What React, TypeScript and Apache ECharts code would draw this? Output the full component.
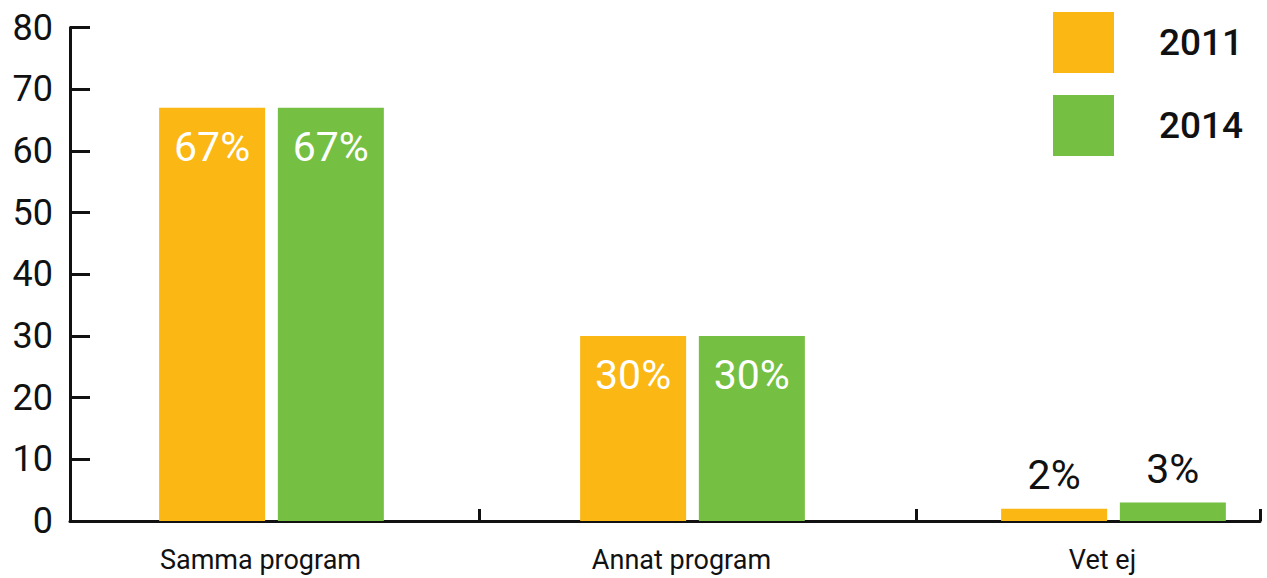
import React, { useEffect, useRef } from "react";
import * as echarts from "echarts";

const categories = ["Samma program", "Annat program", "Vet ej"];
const seriesNames = ["2011", "2014"];
const values2011 = [67, 30, 2];
const values2014 = [67, 30, 3];
const yTicks = [0, 10, 20, 30, 40, 50, 60, 70, 80];
const colors = ["#FBB713", "#75BF43"];

// x-axis (in category units) as laid out in the original picture
const xMin = -0.4786;
const xMax = 2.348;
const categoryBoundaries = [xMin, 0.4929, 1.5309, xMax];

const FONT = "Roboto";

function buildData(values: number[]) {
  return values.map((v, i) => {
    const small = v < 10;
    return {
      value: [i, v],
      label: small
        ? { position: "top", distance: 13, color: "#111" }
        : { position: "insideTop", distance: 19, color: "#fff" },
    };
  });
}

export default function App() {
  const ref = useRef<HTMLDivElement>(null);
  useEffect(() => {
    if (!ref.current) return;
    const chart = echarts.init(ref.current, null, { renderer: "svg" });
    const labelCommon = {
      show: true,
      formatter: (p: any) => `${p.value[1]}%`,
      fontFamily: FONT,
      fontSize: 41,
      fontWeight: "normal",
    };
    chart.setOption({
      animation: false,
      textStyle: { fontFamily: FONT },
      grid: { left: 70, right: 7, top: 27.5, bottom: 57, containLabel: false },
      legend: {
        orient: "vertical",
        left: 1053,
        top: 12,
        padding: 0,
        itemWidth: 61,
        itemHeight: 61,
        itemGap: 22,
        icon: "rect",
        data: seriesNames,
        textStyle: {
          fontFamily: FONT,
          fontSize: 37,
          fontWeight: 500,
          color: "#111",
          padding: [0, 0, 0, 40],
        },
      },
      xAxis: {
        type: "value",
        min: xMin,
        max: xMax,
        splitLine: { show: false },
        axisLine: { show: true, onZero: false, lineStyle: { color: "#111", width: 3 } },
        axisTick: {
          show: true,
          inside: true,
          length: 12,
          customValues: categoryBoundaries,
          lineStyle: { color: "#111", width: 3 },
        },
        axisLabel: {
          show: true,
          customValues: [0, 1, 2],
          formatter: (v: number) => categories[Math.round(v)] ?? "",
          fontFamily: FONT,
          fontSize: 27,
          color: "#111",
          margin: 25,
          padding: [0, 22, 0, 0],
        },
      },
      yAxis: {
        type: "value",
        min: 0,
        max: yTicks[yTicks.length - 1],
        interval: 10,
        splitLine: { show: false },
        axisLine: { show: true, onZero: false, lineStyle: { color: "#111", width: 3 } },
        axisTick: {
          show: true,
          inside: true,
          length: 20,
          lineStyle: { color: "#111", width: 3 },
        },
        axisLabel: {
          fontFamily: FONT,
          fontSize: 36,
          color: "#111",
          margin: 17,
        },
      },
      series: [
        {
          name: seriesNames[0],
          type: "bar",
          barWidth: 106,
          barGap: "12%",
          itemStyle: { color: colors[0] },
          label: labelCommon,
          data: buildData(values2011),
        },
        {
          name: seriesNames[1],
          type: "bar",
          barWidth: 106,
          barGap: "12%",
          itemStyle: { color: colors[1] },
          label: labelCommon,
          data: buildData(values2014),
        },
      ],
    });
    return () => chart.dispose();
  }, []);
  return (
    <div
      ref={ref}
      style={{ position: "absolute", left: 0, top: 0, width: 1267, height: 578 }}
    />
  );
}
